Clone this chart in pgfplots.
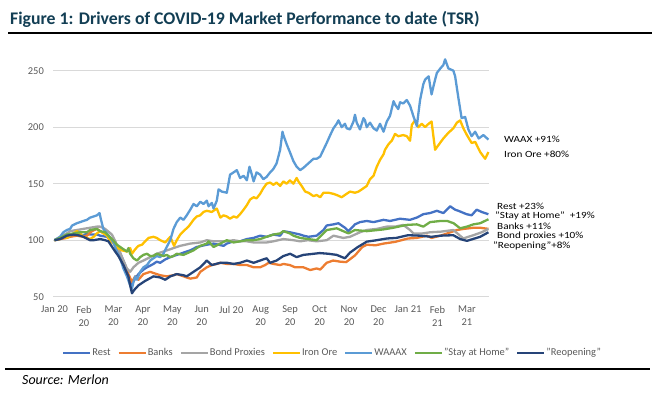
\documentclass[border=0pt]{standalone}
\usepackage{fontspec}
\setmainfont{Carlito}
\usepackage{graphicx}
\usepackage{pgfplots}
\pgfplotsset{compat=1.18}
\definecolor{cRest}{HTML}{4472C4}
\definecolor{cBanks}{HTML}{ED7D31}
\definecolor{cBond}{HTML}{A5A5A5}
\definecolor{cIron}{HTML}{FFC000}
\definecolor{cWAAAX}{HTML}{5B9BD5}
\definecolor{cStay}{HTML}{70AD47}
\definecolor{cReopen}{HTML}{264478}
\definecolor{tickgray}{HTML}{595959}
\definecolor{gridgray}{HTML}{D9D9D9}
\definecolor{titlecol}{RGB}{18,62,84}
\newcommand{\ann}[1]{\scalebox{1.18}[1]{#1}}
\begin{document}
\begin{tikzpicture}[x=1bp,y=1bp]
\path[use as bounding box] (0,0) rectangle (657,392);
\node[anchor=base west, inner sep=0pt, text=titlecol, font=\fontsize{17.8}{20}\selectfont\bfseries] at (10,367.5) {Figure 1: Drivers of COVID-19 Market Performance to date (TSR)};
\draw[black, line width=1.3bp] (8,359) -- (652,359);
\draw[black, line width=1.3bp] (5,23) -- (650,23);
\node[anchor=west, inner sep=0pt, font=\fontsize{14}{16}\selectfont\itshape] at (22,12.5) {Source: Merlon};
\begin{axis}[
  at={(53bp,95.3bp)}, anchor=south west,
  scale only axis, width=436bp, height=243bp,
  xmin=-0.05, xmax=14.75, ymin=50, ymax=265,
  axis line style={draw=none},
  major tick style={draw=none},
  ytick={50,100,150,200,250},
  ymajorgrids, grid style={gridgray, line width=0.9bp},
  xtick={0,1,...,14},
  xticklabels={Jan 20, Feb\\20, Mar\\20, Apr\\20, May\\20, Jun\\20, Jul 20, Aug\\20, Sep\\20, Oct\\20, Nov\\20, Dec\\20, Jan 21, Feb\\21, Mar\\21},
  xticklabel style={align=center, anchor=north, inner sep=0pt, yshift=-9bp, text=tickgray, font=\fontsize{10.5}{13.3}\selectfont},
  yticklabel style={anchor=east, inner sep=0pt, xshift=-9bp, text=tickgray, font=\fontsize{10.5}{12}\selectfont},
  /pgf/number format/assume math mode=true,
  clip=false,
  every axis plot/.append style={line width=2.3bp, line join=round, no markers},
  legend style={draw=none, fill=none, at={(0.64,-0.2305)}, anchor=center, legend columns=-1,
    font=\fontsize{10.5}{12}\selectfont, text=tickgray,
    /tikz/every even column/.append style={column sep=6bp},
    nodes={inner sep=1bp}},
  legend image code/.code={\draw[#1, line width=2.2bp] (0bp,0bp) -- (27bp,0bp);},
]
% Rest
\addplot[cRest] coordinates {(0,100) (0.19,101) (0.42,103) (0.53,104) (0.76,105) (0.98,104) (1.1,106) (1.21,105) (1.44,105) (1.55,104) (1.78,103) (1.9,100) (2.06,96) (2.17,92) (2.29,85) (2.4,78) (2.51,68) (2.63,61) (2.74,66) (2.85,70) (3.02,74) (3.14,76) (3.36,79) (3.47,81) (3.59,80) (3.76,83) (3.93,85) (4.04,86) (4.27,88) (4.49,90) (4.61,91) (4.83,94) (5.0,95) (5.17,96) (5.4,97) (5.57,96) (5.74,95) (5.85,97) (6.08,99) (6.3,99) (6.53,101) (6.76,102) (6.98,104) (7.2,103) (7.43,105) (7.66,104) (7.77,108) (7.99,107) (8.17,106) (8.34,105) (8.45,104) (8.62,103) (8.9,104) (9.13,109) (9.24,113) (9.47,114) (9.64,115) (9.86,111) (9.98,108) (10.2,114) (10.37,116) (10.6,117) (10.83,116) (11.17,118) (11.39,117) (11.73,119) (12.07,118) (12.3,120) (12.52,123) (12.75,124) (12.98,126) (13.2,124) (13.43,130) (13.6,127) (13.71,126) (13.99,123) (14.16,122) (14.33,127) (14.5,125) (14.73,123)};
\addlegendentry{Rest}
% Banks
\addplot[cBanks] coordinates {(0,100) (0.19,101) (0.42,102) (0.53,103) (0.76,104) (0.98,103) (1.1,104) (1.27,108) (1.44,110) (1.55,108) (1.78,105) (1.9,101) (2.0,98) (2.17,90) (2.34,80) (2.51,70) (2.63,63) (2.74,68) (2.85,65) (3.02,70) (3.25,72) (3.47,70) (3.59,69) (3.81,68) (4.04,69) (4.15,70) (4.38,68) (4.49,67) (4.61,66) (4.83,67) (4.95,72) (5.17,76) (5.34,78) (5.51,79) (5.63,80) (5.85,79) (6.08,79) (6.3,78) (6.53,78) (6.76,76) (6.98,76) (7.15,78) (7.27,80) (7.43,79) (7.66,78) (7.77,79) (7.99,78) (8.17,76) (8.45,76) (8.68,73.6) (8.9,75) (9.02,74) (9.24,80) (9.46,82) (9.7,81) (9.9,80.6) (10.2,86.5) (10.45,94) (10.6,96) (10.9,95.5) (11.17,97) (11.56,98.5) (12.0,101.5) (12.3,102) (12.64,104) (12.8,102) (13.1,104) (13.33,106) (13.66,109) (13.9,110) (14.22,111) (14.45,111) (14.73,110)};
\addlegendentry{Banks}
% Bond Proxies
\addplot[cBond] coordinates {(0,100) (0.19,103) (0.42,106) (0.53,108) (0.76,109) (0.98,110) (1.21,111) (1.44,112) (1.55,112) (1.72,110) (1.95,105) (2.12,96) (2.29,85) (2.46,75) (2.57,72) (2.68,76) (2.85,80) (3.02,82) (3.25,85) (3.47,88) (3.7,90) (3.93,92) (4.15,94) (4.27,95) (4.61,97) (4.95,98) (5.17,100) (5.4,99) (5.63,99) (5.85,99) (6.08,100) (6.3,99) (6.53,99) (6.76,98) (6.98,98) (7.2,98) (7.43,99) (7.77,101) (8.11,100) (8.34,99) (8.6,100) (8.9,99) (9.24,100) (9.47,104) (9.8,102) (10.03,103) (10.37,107) (10.6,109) (10.94,110) (11.28,112) (11.56,112) (11.84,113.5) (12.07,109) (12.18,106) (12.5,106) (12.75,107) (13.1,107.5) (13.54,109) (13.88,101.5) (14.05,103) (14.22,104.4) (14.5,107) (14.73,110)};
\addlegendentry{Bond Proxies}
% Iron Ore
\addplot[cIron] coordinates {(0,100) (0.19,101) (0.3,103) (0.42,102) (0.53,104) (0.65,106) (0.76,108) (0.87,106) (0.98,103) (1.1,102) (1.21,101) (1.33,103) (1.44,106) (1.55,108) (1.66,106) (1.78,104) (1.9,99) (2.06,96) (2.17,93) (2.29,91) (2.46,90) (2.57,93) (2.63,88) (2.74,92) (2.85,95) (2.97,96) (3.08,99) (3.19,102) (3.36,103) (3.47,102) (3.59,100) (3.76,98) (3.93,103) (4.06,95) (4.15,100) (4.27,105) (4.38,108) (4.55,112) (4.72,118) (4.83,121) (4.95,122) (5.06,125) (5.17,126) (5.34,125) (5.51,128) (5.63,120) (5.74,122) (5.85,121) (5.96,119) (6.08,121) (6.19,120) (6.3,123) (6.42,127) (6.53,131) (6.64,136) (6.76,138) (6.86,137) (6.98,141) (7.09,146) (7.2,150) (7.32,151) (7.43,149) (7.54,151) (7.66,148) (7.77,152) (7.88,150) (7.99,153) (8.11,150) (8.22,155) (8.28,152) (8.39,148) (8.51,143) (8.62,142) (8.79,139) (8.9,140) (9.02,138) (9.13,142) (9.3,142) (9.47,141) (9.58,140) (9.75,138) (9.86,140) (10.03,143) (10.2,142) (10.32,143) (10.49,146) (10.6,148) (10.71,154) (10.83,157) (10.94,165) (11.05,171) (11.17,176) (11.22,180) (11.34,185) (11.45,188) (11.56,194) (11.67,192) (11.84,193) (11.96,192) (12.07,188) (12.13,202) (12.24,206) (12.35,200) (12.47,203) (12.58,200) (12.7,203) (12.8,205) (12.92,180) (13.03,184) (13.2,190) (13.37,195) (13.54,199) (13.66,204) (13.77,206) (13.88,199) (14.0,193) (14.16,186) (14.28,187) (14.45,178) (14.62,172) (14.73,178)};
\addlegendentry{Iron Ore}
% WAAAX
\addplot[cWAAAX] coordinates {(0,100) (0.19,103) (0.3,107) (0.42,109) (0.53,110) (0.6,113) (0.76,115) (0.87,116) (0.98,117) (1.1,118) (1.21,120) (1.33,121) (1.44,122) (1.53,124) (1.58,118) (1.66,110) (1.78,106) (1.9,102) (2.0,98) (2.12,90) (2.23,84) (2.34,75) (2.46,68) (2.57,60) (2.63,57) (2.68,63) (2.74,68) (2.8,65) (2.91,72) (3.02,76) (3.14,78) (3.25,82) (3.36,84) (3.47,86) (3.59,85) (3.7,88) (3.81,94) (3.93,100) (4.04,110) (4.15,116) (4.27,120) (4.38,118) (4.49,122) (4.61,127) (4.72,132) (4.83,130) (4.95,134) (5.06,132) (5.17,135) (5.23,130) (5.34,133) (5.4,128) (5.51,135) (5.57,145) (5.68,143) (5.85,142) (5.96,158) (6.08,160) (6.19,162) (6.3,155) (6.42,157) (6.53,153) (6.62,165) (6.7,158) (6.76,152) (6.86,160) (6.98,158) (7.09,154) (7.2,156) (7.32,160) (7.43,163) (7.54,168) (7.66,180) (7.74,196) (7.77,193) (7.88,185) (7.99,178) (8.11,170) (8.22,165) (8.34,162) (8.45,164) (8.62,168) (8.79,172) (8.9,172) (9.02,174) (9.13,180) (9.24,186) (9.36,193) (9.47,199) (9.58,203) (9.64,206) (9.75,200) (9.86,203) (9.92,199) (10.03,198) (10.15,205) (10.2,211) (10.26,204) (10.37,198) (10.49,208) (10.54,206) (10.6,200) (10.71,204) (10.83,199) (10.94,197) (11.05,203) (11.17,196) (11.28,205) (11.39,210) (11.51,223) (11.56,220) (11.67,216) (11.73,222) (11.84,221) (11.96,224) (12.07,219) (12.18,210) (12.3,201) (12.41,224) (12.52,238) (12.58,242) (12.7,245) (12.8,229) (12.9,240) (12.98,248) (13.1,252) (13.2,255) (13.26,260) (13.37,252) (13.54,250) (13.6,245) (13.71,226) (13.82,208) (13.94,209) (14.05,198) (14.16,192) (14.28,196) (14.4,190) (14.56,193) (14.73,189)};
\addlegendentry{WAAAX}
% Stay at Home
\addplot[cStay] coordinates {(0,100) (0.19,102) (0.42,105) (0.65,106) (0.87,107) (1.1,107) (1.21,109) (1.44,110) (1.55,108) (1.72,107) (1.95,101) (2.12,96) (2.23,94) (2.34,92) (2.46,90) (2.51,93) (2.57,88) (2.68,84) (2.8,82) (2.91,85) (3.02,87) (3.14,88) (3.25,86) (3.36,86) (3.47,88) (3.59,87) (3.7,86) (3.81,87) (3.93,85) (4.04,86) (4.15,88) (4.38,87) (4.55,89) (4.72,91) (4.83,93) (4.95,95) (5.17,97) (5.23,99) (5.4,94) (5.63,97) (5.85,100) (6.08,98) (6.3,99) (6.53,100) (6.76,100) (6.98,101) (7.2,103) (7.43,105) (7.66,106) (7.77,108) (7.99,106) (8.11,104) (8.34,102) (8.62,101) (8.9,100) (9.24,109) (9.47,110) (9.58,110.5) (9.98,106) (10.2,109) (10.6,108) (11.16,109.5) (11.5,111) (11.95,113.5) (12.3,114) (12.52,112) (12.75,116) (13.1,117) (13.33,117) (13.55,115) (13.77,110.5) (14.0,112) (14.22,114) (14.45,115) (14.73,118.5)};
\addlegendentry{"Stay at Home"}
% Reopening
\addplot[cReopen] coordinates {(0,100) (0.19,101) (0.42,104) (0.65,105) (0.87,104) (0.98,103) (1.21,100) (1.33,100) (1.55,101) (1.72,100) (1.83,99) (2.06,90) (2.17,86) (2.34,78) (2.51,68) (2.57,60) (2.63,53) (2.68,55) (2.74,57) (2.85,60) (3.08,64) (3.36,68) (3.59,67) (3.76,65) (3.93,68) (4.15,70) (4.38,69) (4.49,68) (4.72,72) (4.95,76) (5.17,82) (5.34,78) (5.63,80) (5.85,80) (6.08,79) (6.3,80) (6.53,82) (6.76,80) (6.98,82) (7.2,84) (7.32,80) (7.54,82) (7.77,86) (8.0,88) (8.22,85) (8.45,87) (8.67,87.6) (9.0,88.6) (9.3,88) (9.58,87) (9.86,84) (10.03,89) (10.3,94) (10.6,98.7) (10.94,100) (11.28,101.5) (11.6,102) (12.0,104.4) (12.4,104) (12.8,103) (13.1,104) (13.54,104.4) (13.77,101) (14.0,99.4) (14.2,101) (14.45,103) (14.73,107)};
\addlegendentry{"Reopening"}
\end{axis}
\begin{scope}[every node/.style={anchor=west, inner sep=0pt, font=\fontsize{9.5}{10}\selectfont}]
\node at (504,253) {\ann{WAAX +91\%}};
\node at (504,237.5) {\ann{Iron Ore +80\%}};
\node at (497,186) {\ann{Rest +23\%}};
\node at (495,176) {\ann{"Stay at Home"\ \ +19\%}};
\node at (497,166) {\ann{Banks +11\%}};
\node at (497,156) {\ann{Bond proxies +10\%}};
\node at (493,146) {\ann{"Reopening"+8\%}};
\end{scope}
\end{tikzpicture}
\end{document}
